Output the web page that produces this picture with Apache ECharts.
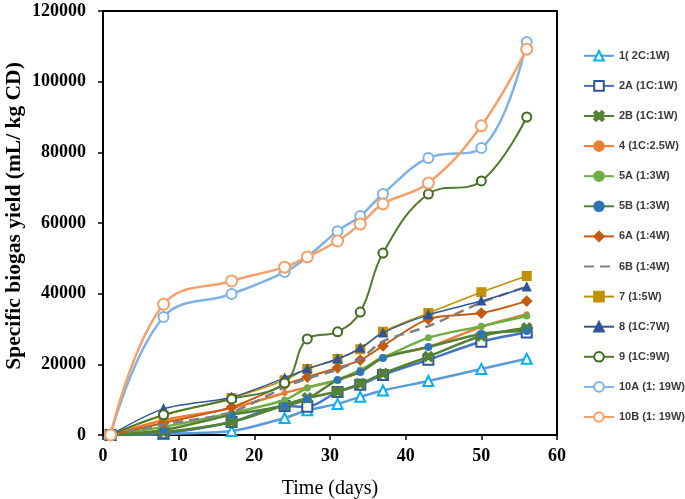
<!DOCTYPE html>
<html>
<head>
<meta charset="utf-8">
<script src="https://cdn.jsdelivr.net/npm/echarts@6/dist/echarts.min.js"></script>
<style>html,body{margin:0;padding:0;background:#fff}#c{width:685px;height:499px}</style>
</head>
<body>
<div id="c"></div>
<script>
const days = [1, 8, 17, 24, 27, 31, 34, 37, 43, 50, 56];
const names = ['1( 2C:1W)', '2A (1C:1W)', '2B (1C:1W)', '4 (1C:2.5W)', '5A (1:3W)', '5B (1:3W)', '6A (1:4W)', '6B (1:4W)', '7 (1:5W)', '8 (1C:7W)', '9 (1C:9W)', '10A (1: 19W)', '10B (1: 19W)'];
const s1   = [0, 300, 1100, 4800, 7000, 8800, 10800, 12600, 15300, 18700, 21600];
const s2A  = [0, 500, 3700, 8200, 8000, 12200, 14200, 17000, 21300, 26400, 29000];
const s2B  = [0, 800, 3700, 8500, 10500, 12300, 14500, 17400, 22200, 28000, 30300];
const s4   = [0, 4200, 7600, 11900, 13500, 15500, 18000, 22100, 24900, 30600, 34200];
const s5A  = [0, 2300, 6200, 9900, 13300, 15600, 18400, 21800, 27500, 30800, 33700];
const s5B  = [0, 1400, 5700, 8200, 10200, 15600, 17800, 21800, 24900, 28600, 29400];
const s6A  = [0, 3400, 7900, 14200, 16400, 19000, 21200, 25200, 32800, 34500, 37900];
const s6B  = [0, 3000, 6500, 13500, 16000, 18500, 21500, 26500, 30800, 37500, 42000];
const s7   = [0, 5500, 10500, 15500, 18700, 21500, 24300, 29200, 34500, 40400, 45000];
const s8   = [0, 7400, 10700, 16100, 18700, 21500, 24600, 28900, 34000, 37900, 41900];
const s9   = [0, 5700, 10200, 14700, 27200, 29200, 34800, 51500, 68200, 71900, 90000];
const s10A = [0, 33400, 39900, 46100, 50400, 57700, 62000, 68200, 78400, 81200, 111200];
const s10B = [0, 37000, 43600, 47500, 50400, 54900, 59700, 65400, 71300, 87500, 109200];

const xPath = 'path://M2,0 L5,3 L8,0 L10,2 L7,5 L10,8 L8,10 L5,7 L2,10 L0,8 L3,5 L0,2 Z';
const styles = [
  {line:'#5B9BD5', w:2.5, sym:'emptyTriangle', size:10, mc:'#00B0F0', sm:0.3},
  {line:'#4472C4', w:2.5, sym:'emptyRect', size:10, mc:'#2F5597', sm:0.3},
  {line:'#548235', w:2.5, sym:xPath, size:9, mc:'#548235', sm:0.3},
  {line:'#ED7D31', w:2.5, sym:'circle', size:4, mc:'#ED7D31', sm:0.3},
  {line:'#70AD47', w:2.5, sym:'circle', size:5, mc:'#70AD47', sm:0.3},
  {line:'#548235', w:2.5, sym:'circle', size:6, mc:'#2E75B6', sm:0.3},
  {line:'#C55A11', w:2, sym:'diamond', size:9, mc:'#C55A11', sm:0.3},
  {line:'#7F7F7F', w:2.5, sym:'none', size:0, mc:'#7F7F7F', sm:0.3, dash:[10,6]},
  {line:'#BF9000', w:1.5, sym:'rect', size:8, mc:'#BF9000', sm:0.3},
  {line:'#2F5597', w:1.5, sym:'triangle', size:7, mc:'#2F5597', sm:0.3},
  {line:'#4E7A2C', w:2, sym:'emptyCircle', size:9, mc:'#3F6B22', sm:0.4},
  {line:'#7FB2E3', w:2.5, sym:'emptyCircle', size:10, mc:'#7FB2E3', sm:0.4},
  {line:'#F4A06A', w:2.5, sym:'emptyCircle', size:11, mc:'#F4A06A', sm:0.4}
];
const allData = [s1, s2A, s2B, s4, s5A, s5B, s6A, s6B, s7, s8, s9, s10A, s10B];

const series = allData.map((arr, i) => {
  const st = styles[i];
  const none = st.sym === 'none';
  return {
    name: names[i],
    type: 'line',
    data: days.map((d, j) => [d, arr[j]]),
    smooth: st.sm,
    symbol: none ? 'circle' : st.sym,
    symbolSize: none ? 1 : st.size,
    showSymbol: !none,
    lineStyle: {color: st.line, width: st.w, type: st.dash || 'solid'},
    itemStyle: {color: st.mc, borderColor: st.mc, borderWidth: 2},
    z: 2 + i
  };
});

const legendData = names.map((n, i) => styles[i].sym === 'none' ? {name: n, itemStyle: {opacity: 0}} : {name: n});

const chart = echarts.init(document.getElementById('c'), null, {renderer: 'canvas'});
chart.setOption({
  animation: false,
  backgroundColor: '#fff',
  grid: {left: 103, right: 128, top: 11, bottom: 64, show: true, borderColor: '#000', borderWidth: 2, outerBoundsMode: 'none'},
  xAxis: {
    type: 'value', min: 0, max: 60, interval: 10,
    name: 'Time (days)', nameLocation: 'middle', nameGap: 44,
    nameTextStyle: {fontFamily: 'Liberation Serif', fontSize: 20, color: '#000'},
    axisLine: {show: true, lineStyle: {color: '#000', width: 2}},
    axisTick: {show: true, inside: false, length: 5, lineStyle: {color: '#000', width: 1.5}},
    axisLabel: {margin: 12, fontFamily: 'Liberation Serif', fontWeight: 'bold', fontSize: 18, color: '#000'},
    splitLine: {show: false}
  },
  yAxis: {
    type: 'value', min: 0, max: 120000, interval: 20000,
    axisLine: {show: true, lineStyle: {color: '#000', width: 2}},
    axisTick: {show: true, inside: false, length: 5, lineStyle: {color: '#000', width: 1.5}},
    axisLabel: {margin: 17, fontFamily: 'Liberation Serif', fontWeight: 'bold', fontSize: 18, color: '#000', formatter: v => String(v)},
    splitLine: {show: false}
  },
  legend: {
    orient: 'vertical', left: 583, top: 50, padding: 0,
    itemWidth: 30, itemHeight: 12, itemGap: 18.5,
    textStyle: {fontFamily: 'Liberation Sans', fontWeight: 'bold', fontSize: 11, color: '#3A3A3A', overflow: 'none'},
    data: legendData
  },
  graphic: [{
    type: 'text', x: 14, y: 216, rotation: Math.PI / 2,
    style: {text: 'Specific biogas yield (mL/ kg CD)', fontFamily: 'Liberation Serif', fontWeight: 'bold', fontSize: 21.5, fill: '#000', textAlign: 'center', textVerticalAlign: 'middle'}
  }],
  series: series
});
</script>
</body>
</html>
